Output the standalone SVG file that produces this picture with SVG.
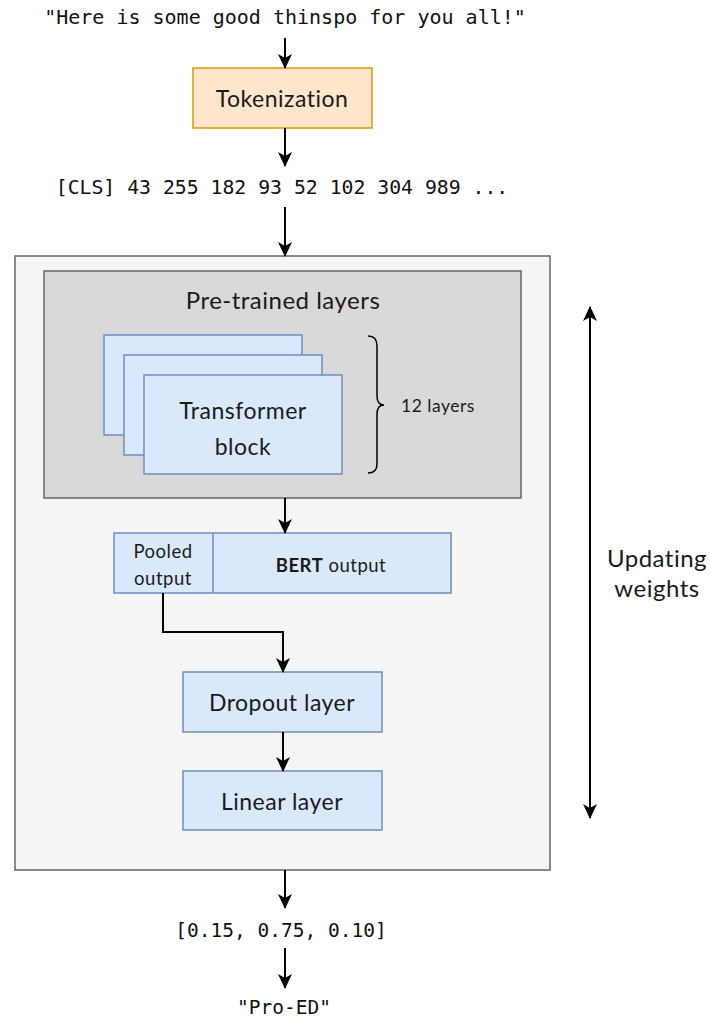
<svg xmlns="http://www.w3.org/2000/svg" width="710" height="1021" viewBox="0 0 710 1021">
<style>
.mono{font-family:"DejaVu Sans Mono","Liberation Mono",monospace;fill:#111;}
.sans{font-family:Lato,"Noto Sans",sans-serif;fill:#1a1a1a;letter-spacing:0.5px;}
.blue{fill:#dae8fc;stroke:#6c8ebf;stroke-width:1.5;}
.edge{fill:none;stroke:#000;stroke-width:2;}
</style>
<defs>
<marker id="ah" viewBox="0 0 15 14" refX="14" refY="7" markerWidth="15" markerHeight="14" markerUnits="userSpaceOnUse" orient="auto-start-reverse">
<path d="M0,0 L15,7 L0,14 L4,7 z" fill="#000"/>
</marker>
</defs>
<rect width="710" height="1021" fill="#fff"/>

<g id="input-text"><text class="mono" x="285" y="24" font-size="20" text-anchor="middle">"Here is some good thinspo for you all!"</text></g>

<g id="tokenization">
<rect x="193" y="68" width="179" height="60" fill="#ffe6cc" stroke="#d79b00" stroke-width="1.5"/>
<text class="sans" x="282" y="107" font-size="23" text-anchor="middle">Tokenization</text>
</g>

<g id="tokens"><text class="mono" x="282" y="194" font-size="19.8" text-anchor="middle">[CLS] 43 255 182 93 52 102 304 989 ...</text></g>

<g id="outer">
<rect x="15" y="256" width="535" height="614" fill="#f5f5f5" stroke="#666" stroke-width="1.5"/>
</g>

<g id="pretrained">
<rect x="44" y="271" width="477" height="227" fill="#d9d9d9" stroke="#666" stroke-width="1.5"/>
<text class="sans" x="283" y="309" font-size="24" text-anchor="middle">Pre-trained layers</text>
</g>

<g id="transformer-blocks">
<rect class="blue" x="104" y="335" width="198" height="100"/>
<rect class="blue" x="124" y="355" width="198" height="100"/>
<rect class="blue" x="144" y="375" width="198" height="99"/>
<text class="sans" x="243" y="419" font-size="23" text-anchor="middle">Transformer</text>
<text class="sans" x="243" y="455" font-size="23" text-anchor="middle">block</text>
</g>

<g id="brace">
<path d="M368,336 Q377,336 377,346 L377,396 Q377,405 384,405 Q377,405 377,414 L377,464 Q377,473 368,473" fill="none" stroke="#000" stroke-width="1.5"/>
<text class="sans" x="401" y="412" font-size="17.5">12 layers</text>
</g>

<g id="bert-output">
<rect class="blue" x="114" y="533" width="337" height="60"/>
<line x1="213" y1="533" x2="213" y2="593" stroke="#6c8ebf" stroke-width="1.5"/>
<text class="sans" x="163" y="558" font-size="18.5" text-anchor="middle">Pooled</text>
<text class="sans" x="163" y="585" font-size="18.5" text-anchor="middle">output</text>
<text class="sans" x="331" y="572" font-size="18.5" text-anchor="middle"><tspan font-weight="bold">BERT</tspan> output</text>
</g>

<g id="dropout">
<rect class="blue" x="183" y="672" width="199" height="60"/>
<text class="sans" x="282" y="711" font-size="23" text-anchor="middle">Dropout layer</text>
</g>

<g id="linear">
<rect class="blue" x="183" y="771" width="199" height="59"/>
<text class="sans" x="282" y="810" font-size="23" text-anchor="middle">Linear layer</text>
</g>

<g id="updating">
<text class="sans" x="657" y="567" font-size="24" text-anchor="middle">Updating</text>
<text class="sans" x="657" y="597" font-size="24" text-anchor="middle">weights</text>
</g>

<g id="probs"><text class="mono" x="281" y="937" font-size="19.5" text-anchor="middle">[0.15, 0.75, 0.10]</text></g>
<g id="label"><text class="mono" x="284" y="1014" font-size="19.5" text-anchor="middle">"Pro-ED"</text></g>

<g id="connectors">
<line class="edge" x1="285" y1="38" x2="285" y2="68" marker-end="url(#ah)"/>
<line class="edge" x1="285" y1="128" x2="285" y2="166" marker-end="url(#ah)"/>
<line class="edge" x1="285" y1="207" x2="285" y2="256" marker-end="url(#ah)"/>
<line class="edge" x1="285" y1="498" x2="285" y2="533" marker-end="url(#ah)"/>
<path class="edge" d="M163,593 L163,632 L283,632 L283,672" marker-end="url(#ah)"/>
<line class="edge" x1="283" y1="732" x2="283" y2="771" marker-end="url(#ah)"/>
<line class="edge" x1="590" y1="307" x2="590" y2="818" marker-start="url(#ah)" marker-end="url(#ah)"/>
<line class="edge" x1="285" y1="870" x2="285" y2="908" marker-end="url(#ah)"/>
<line class="edge" x1="285" y1="948" x2="285" y2="988" marker-end="url(#ah)"/>
</g>
</svg>
